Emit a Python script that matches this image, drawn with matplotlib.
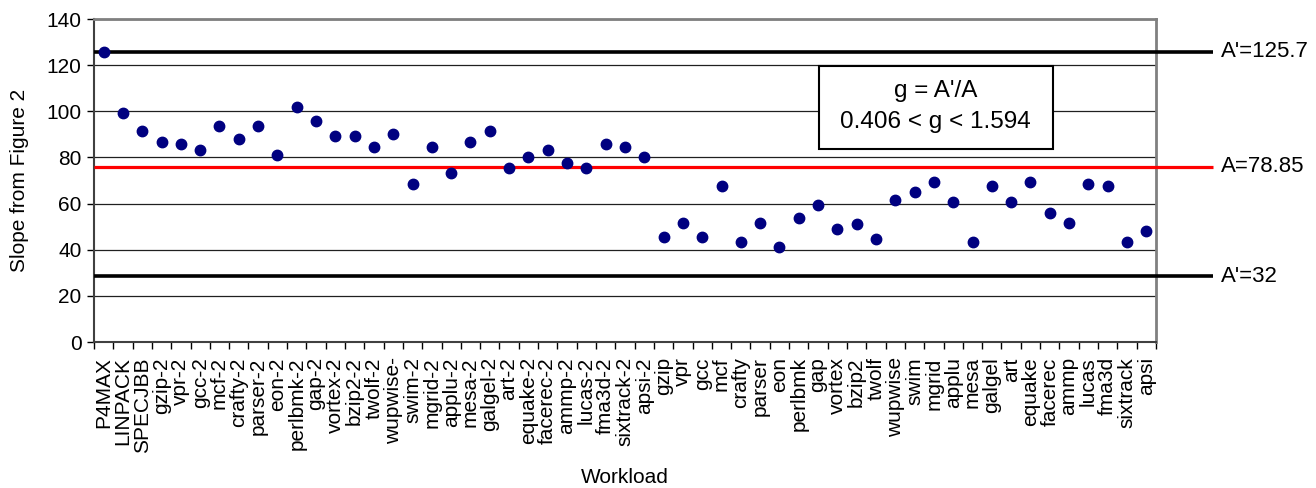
import matplotlib
matplotlib.use('Agg')
import matplotlib.pyplot as plt
from matplotlib.patches import Rectangle

plt.rcParams['font.family'] = ['Liberation Sans', 'DejaVu Sans']

workloads = ['P4MAX', 'LINPACK', 'SPECJBB', 'gzip-2', 'vpr-2', 'gcc-2', 'mcf-2', 'crafty-2',
             'parser-2', 'eon-2', 'perlbmk-2', 'gap-2', 'vortex-2', 'bzip2-2', 'twolf-2',
             'wupwise-', 'swim-2', 'mgrid-2', 'applu-2', 'mesa-2', 'galgel-2', 'art-2',
             'equake-2', 'facerec-2', 'ammp-2', 'lucas-2', 'fma3d-2', 'sixtrack-2', 'apsi-2',
             'gzip', 'vpr', 'gcc', 'mcf', 'crafty', 'parser', 'eon', 'perlbmk', 'gap',
             'vortex', 'bzip2', 'twolf', 'wupwise', 'swim', 'mgrid', 'applu', 'mesa',
             'galgel', 'art', 'equake', 'facerec', 'ammp', 'lucas', 'fma3d', 'sixtrack', 'apsi']
slopes = [125.8, 99.4, 91.3, 86.8, 85.7, 83.4, 93.8, 88.0,
          93.8, 81.1, 101.9, 95.9, 89.1, 89.1, 84.5,
          90.3, 68.5, 84.5, 73.1, 86.8, 91.3, 75.4,
          80.0, 83.4, 77.7, 75.4, 85.7, 84.5, 80.0,
          45.6, 51.4, 45.6, 67.5, 43.3, 51.4, 41.0, 53.6, 59.4,
          49.1, 51.3, 44.5, 61.7, 65.0, 69.5, 60.5, 43.5,
          67.5, 60.5, 69.5, 55.9, 51.4, 68.5, 67.5, 43.5, 48.1]

# reference lines: (drawn level, label, colour)
ref_levels = [125.9, 75.9, 28.6]
ref_labels = ["A'=125.7", "A=78.85", "A'=32"]
ref_colors = ['black', 'red', 'black']

box_lines = ["g = A'/A", "0.406 < g < 1.594"]

fig = plt.figure(figsize=(13.16, 4.88), dpi=100)
ax = fig.add_axes([0.0714, 0.299, 0.8070, 0.662])

n = len(workloads)
x = list(range(n))
ax.set_xlim(-0.5, n - 0.5)
ax.set_ylim(0, 140)

ax.set_yticks(range(0, 141, 20))
ax.yaxis.grid(True, color='#202020', linewidth=0.9)
ax.set_axisbelow(True)

for lvl, lab, col in zip(ref_levels, ref_labels, ref_colors):
    ax.plot([-0.5, 57.45], [lvl, lvl], color=col, lw=2.6 if col == 'black' else 2.3,
            clip_on=False, zorder=3, solid_capstyle='butt')
    ax.text(57.85, lvl, lab, fontsize=16, va='center', ha='left')

ax.plot(x, slopes, 'o', color='#000080', markersize=7.5, zorder=4, clip_on=False)

# category ticks sit between the categories
ax.set_xticks([i - 0.5 for i in range(n + 1)])
ax.set_xticklabels([])
ax.set_xticks(x, minor=True)
ax.set_xticklabels(workloads, minor=True, rotation=90, fontsize=15, va='top', ha='center')
ax.tick_params(axis='x', which='minor', length=0, pad=11)
ax.tick_params(axis='x', which='major', length=5, width=1, direction='out', color='black')
ax.tick_params(axis='y', length=5, width=1, direction='out', labelsize=15, pad=4)

for s in ['top', 'right']:
    ax.spines[s].set_color('#808080')
    ax.spines[s].set_linewidth(2)
for s in ['left', 'bottom']:
    ax.spines[s].set_color('#404040')
    ax.spines[s].set_linewidth(1.5)

ax.set_ylabel('Slope from Figure 2', fontsize=15)
ax.yaxis.set_label_coords(-0.061, 0.5)
fig.text(0.475, 0.022, 'Workload', fontsize=15, ha='center', va='center')

# annotation box
ax.add_patch(Rectangle((37.05, 83.7), 12.1, 35.9, facecolor='white', edgecolor='black',
                       linewidth=1.5, zorder=5))
ax.text(43.1, 108.8, box_lines[0], fontsize=17.5, ha='center', va='center', zorder=6)
ax.text(43.1, 95.4, box_lines[1], fontsize=17.5, ha='center', va='center', zorder=6)

fig.savefig('out.png', dpi=100)
